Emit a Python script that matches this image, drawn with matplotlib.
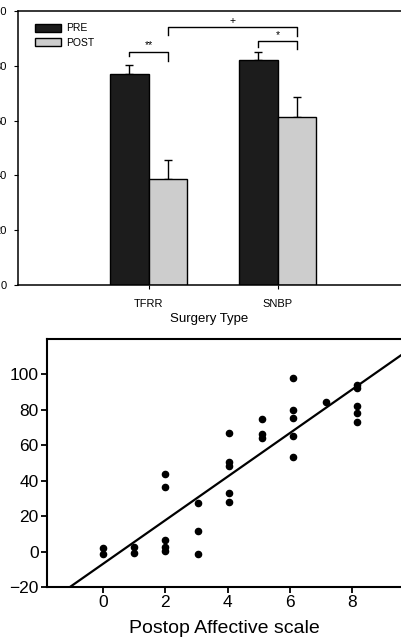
import numpy as np
import matplotlib
matplotlib.use("Agg")
import matplotlib.pyplot as plt

plt.rcParams["font.family"] = ["Liberation Sans", "DejaVu Sans"]

# Top panel: bar chart
categories = ["TFRR", "SNBP"]
pre_vals = [77.0, 82.2]
post_vals = [38.8, 61.4]
pre_err = [3.2, 2.9]
post_err = [6.9, 7.2]

# significance brackets: (x_left, x_right, top, left_end, right_end, label)
brackets = [
    (-0.15, 0.15, 85.1, 83.5, 81.7, "**"),
    (0.85, 1.15, 89.0, 87.0, 86.0, "*"),
    (0.15, 1.15, 94.0, 91.2, 90.8, "+"),
]

# Bottom panel: scatter
affective_x = [0, 0, 1, 1, 2, 2, 2, 2, 2, 3.05, 3.05, 3.05,
               4.05, 4.05, 4.05, 4.05, 4.05, 5.1, 5.1, 5.1,
               6.1, 6.1, 6.1, 6.1, 6.1, 7.15, 8.15, 8.15, 8.15, 8.15, 8.15]
score_y = [2.1, -1.3, 2.8, -0.6, 43.6, 36.6, 6.6, 2.4, 0.6, 27.6, 11.8, -1.5,
           67.0, 50.3, 48.5, 33.2, 28.2, 74.6, 66.3, 64.2,
           97.8, 79.8, 75.5, 65.2, 53.3, 84.5, 94.3, 92.6, 82.3, 78.5, 73.2]
fit_slope = 12.33
fit_intercept = -7.05

fig = plt.figure(figsize=(4.01, 6.40), dpi=100)

# ---- top bar chart ----
ax1 = fig.add_axes([18 / 401, 0.5547, 1 - 18 / 401, 0.4281])
x = np.arange(len(categories))
w = 0.3
ax1.bar(x - w / 2, pre_vals, w, color="#1c1c1c", edgecolor="black", linewidth=1,
        label="PRE", zorder=2)
ax1.bar(x + w / 2, post_vals, w, color="#cdcdcd", edgecolor="black", linewidth=1,
        label="POST", zorder=2)
ax1.errorbar(x - w / 2, pre_vals, yerr=[np.zeros(2), pre_err], fmt="none",
             ecolor="black", elinewidth=1, capsize=3, zorder=1)
ax1.errorbar(x + w / 2, post_vals, yerr=[np.zeros(2), post_err], fmt="none",
             ecolor="black", elinewidth=1, capsize=3, zorder=1)

for xl, xr, top, yl, yr, lab in brackets:
    ax1.plot([xl, xl, xr, xr], [yl, top, top, yr], color="black", lw=1)
    ax1.text((xl + xr) / 2, top + 0.5, lab, ha="center", va="bottom", fontsize=7.5)

ax1.set_xlim(-1.013, 1.957)
ax1.set_ylim(0, 100)
ax1.set_xticks(x)
ax1.set_xticklabels(categories, fontsize=8)
ax1.set_yticks([0, 20, 40, 60, 80, 100])
ax1.tick_params(axis="y", labelsize=8, length=3, pad=5)
ax1.tick_params(axis="x", length=3, pad=7)
ax1.set_xlabel("Surgery Type", fontsize=9.5, labelpad=3)
for s in ["left", "top", "bottom"]:
    ax1.spines[s].set_linewidth(1.1)
ax1.spines["right"].set_visible(False)
ax1.legend(loc="upper left", bbox_to_anchor=(0.044, 0.955), frameon=False,
           fontsize=7.5, handlelength=2.5, handleheight=0.75, handletextpad=0.5,
           labelspacing=0.4, borderpad=0, borderaxespad=0)

# ---- bottom scatter ----
ax2 = fig.add_axes([47 / 401, 0.0828, 1 - 47 / 401, 0.3875])
ax2.scatter(affective_x, score_y, s=20, color="black", zorder=3)
xlim = (-1.785, 9.56)
xs = np.array(xlim)
ax2.plot(xs, fit_slope * xs + fit_intercept, color="black", lw=1.6)
ax2.set_xlim(*xlim)
ax2.set_ylim(-20, 120)
ax2.set_xticks([0, 2, 4, 6, 8])
ax2.set_yticks([-20, 0, 20, 40, 60, 80, 100])
ax2.tick_params(labelsize=12.5, length=4.5, width=1.3, pad=1.5)
ax2.set_xlabel("Postop Affective scale", fontsize=14, labelpad=7)
for s in ["left", "top", "bottom"]:
    ax2.spines[s].set_linewidth(1.5)
ax2.spines["right"].set_visible(False)

fig.savefig("out.png", dpi=100)
